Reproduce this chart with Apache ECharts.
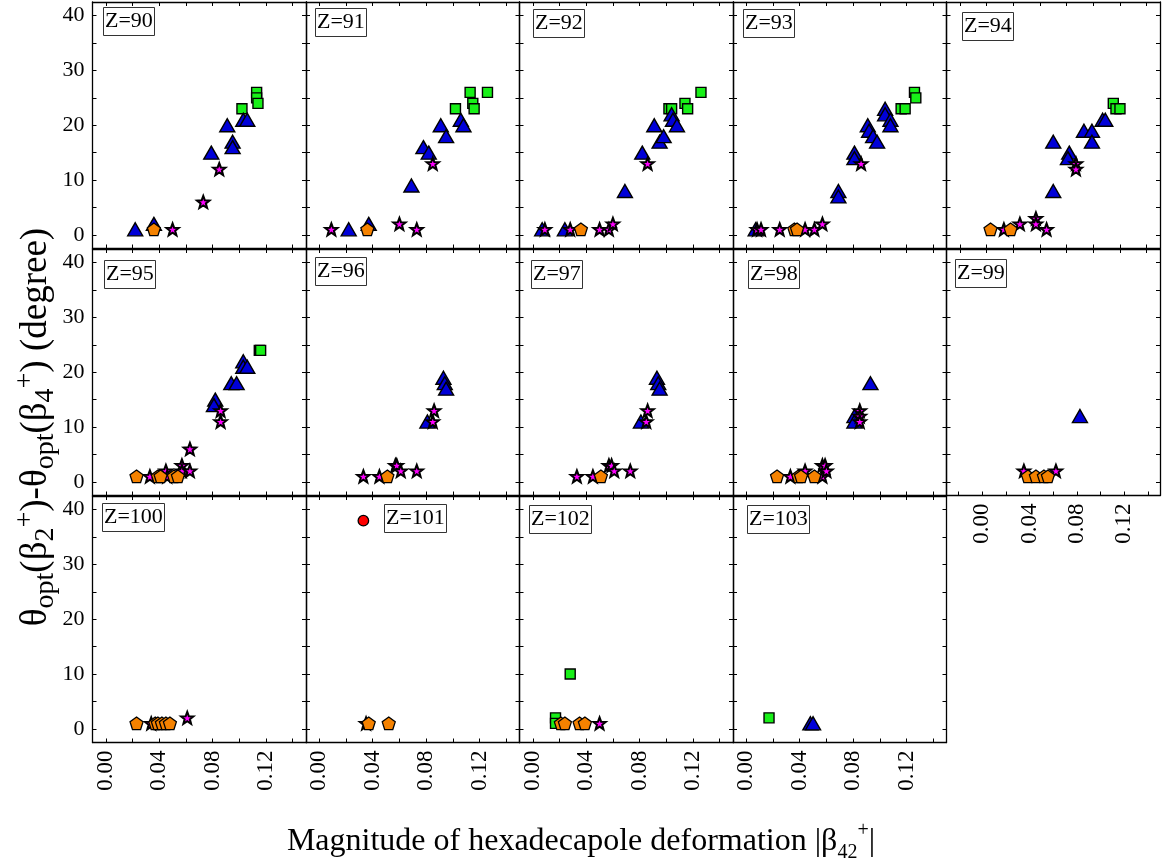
<!DOCTYPE html>
<html>
<head>
<meta charset="utf-8">
<script src="https://cdn.jsdelivr.net/npm/echarts@6/dist/echarts.min.js"></script>
<style>html,body{margin:0;padding:0;background:#fff}#c{width:1164px;height:862px}</style>
</head>
<body>
<div id="c"></div>
<script>
// ---- data: [x = |beta42+|, y = degree] ----
const zValues = [90,91,92,93,94,95,96,97,98,99,100,101,102,103];
const xTickValues = [0,0.02,0.04,0.06,0.08,0.10,0.12,0.14];
const xLabelValues = [0,0.04,0.08,0.12];
const yTickValues = [0,5,10,15,20,25,30,35,40];
const yLabelValues = [0,10,20,30,40];

const tri90 = [[0.022,1],[0.036,2],[0.079,15],[0.091,20],[0.095,17],[0.095,16],[0.103,21],[0.106,21]];
const sq90 = [[0.102,23],[0.113,26],[0.113,25],[0.114,24]];
const star90 = [[0.050,1],[0.073,6],[0.085,12]];
const pent90 = [[0.036,1]];

const tri91 = [[0.022,1],[0.037,2],[0.069,9],[0.078,16],[0.082,15],[0.091,20],[0.095,18],[0.106,21],[0.108,20]];
const sq91 = [[0.102,23],[0.113,26],[0.115,24],[0.116,23],[0.126,26]];
const star91 = [[0.009,1],[0.060,2],[0.073,1],[0.085,13]];
const pent91 = [[0.036,1]];

const tri92 = [[0.007,1],[0.024,1],[0.069,8],[0.082,15],[0.091,20],[0.095,17],[0.098,18],[0.104,22],[0.105,21],[0.108,20]];
const sq92 = [[0.102,23],[0.104,23],[0.114,24],[0.116,23],[0.126,26]];
const star92 = [[0.009,1],[0.028,1],[0.050,1],[0.057,1],[0.060,2],[0.086,13]];
const pent92 = [[0.036,1]];

const tri93 = [[0.007,1],[0.069,8],[0.069,7],[0.081,15],[0.081,14],[0.091,20],[0.092,19],[0.095,18],[0.098,17],[0.104,23],[0.104,22],[0.108,21],[0.108,20]];
const sq93 = [[0.116,23],[0.119,23],[0.126,26],[0.127,25]];
const star93 = [[0.008,1],[0.011,1],[0.025,1],[0.044,1],[0.051,1],[0.057,2],[0.086,13]];
const pent93 = [[0.036,1],[0.038,1]];

const tri94 = [[0.070,8],[0.070,17],[0.082,15],[0.081,14],[0.093,19],[0.099,19],[0.099,17],[0.107,21],[0.109,21]];
const sq94 = [[0.115,24],[0.117,23],[0.120,23]];
const star94 = [[0.033,1],[0.045,2],[0.057,3],[0.057,2],[0.065,1],[0.087,13],[0.087,12]];
const pent94 = [[0.023,1],[0.038,1]];

const tri95 = [[0.082,15],[0.081,14],[0.094,18],[0.098,18],[0.103,22],[0.103,21],[0.106,21]];
const sq95 = [[0.115,24],[0.116,24]];
const star95 = [[0.033,1],[0.045,2],[0.046,1],[0.057,3],[0.057,2],[0.063,2],[0.063,6],[0.086,11],[0.086,13]];
const pent95 = [[0.023,1],[0.039,1],[0.041,1],[0.051,1],[0.054,1]];

const tri96 = [[0.081,11],[0.093,19],[0.094,18],[0.095,17]];
const star96 = [[0.033,1],[0.045,1],[0.057,3],[0.058,3],[0.061,2],[0.073,2],[0.085,11],[0.086,13]];
const pent96 = [[0.051,1]];

const tri97 = [[0.081,11],[0.093,19],[0.094,18],[0.095,17]];
const star97 = [[0.033,1],[0.045,1],[0.057,3],[0.059,3],[0.061,2],[0.073,2],[0.085,11],[0.086,13]];
const pent97 = [[0.051,1]];

const tri98 = [[0.081,12],[0.081,11],[0.093,18]];
const star98 = [[0.033,1],[0.044,2],[0.057,1],[0.057,3],[0.059,3],[0.060,2],[0.085,13],[0.085,12],[0.085,11]];
const pent98 = [[0.023,1],[0.039,1],[0.041,1],[0.051,1]];

const tri99 = [[0.090,12]];
const star99 = [[0.048,2],[0.072,2]];
const pent99 = [[0.051,1],[0.057,1],[0.063,1],[0.066,1]];

const star100 = [[0.034,1],[0.061,2]];
const pent100 = [[0.023,1],[0.037,1],[0.039,1],[0.042,1],[0.045,1],[0.048,1]];

const circ101 = [[0.033,38]];
const star101 = [[0.035,1]];
const pent101 = [[0.037,1],[0.052,1]];

const sq102 = [[0.017,2],[0.017,1],[0.028,10]];
const star102 = [[0.050,1]];
const pent102 = [[0.021,1],[0.024,1],[0.035,1],[0.039,1]];

const sq103 = [[0.017,2]];
const tri103 = [[0.048,1],[0.050,1]];

const panels = [
  {z:90, sq:sq90, tri:tri90, star:star90, pent:pent90, circ:[]},
  {z:91, sq:sq91, tri:tri91, star:star91, pent:pent91, circ:[]},
  {z:92, sq:sq92, tri:tri92, star:star92, pent:pent92, circ:[]},
  {z:93, sq:sq93, tri:tri93, star:star93, pent:pent93, circ:[]},
  {z:94, sq:sq94, tri:tri94, star:star94, pent:pent94, circ:[]},
  {z:95, sq:sq95, tri:tri95, star:star95, pent:pent95, circ:[]},
  {z:96, sq:[], tri:tri96, star:star96, pent:pent96, circ:[]},
  {z:97, sq:[], tri:tri97, star:star97, pent:pent97, circ:[]},
  {z:98, sq:[], tri:tri98, star:star98, pent:pent98, circ:[]},
  {z:99, sq:[], tri:tri99, star:star99, pent:pent99, circ:[]},
  {z:100, sq:[], tri:[], star:star100, pent:pent100, circ:[]},
  {z:101, sq:[], tri:[], star:star101, pent:pent101, circ:circ101},
  {z:102, sq:sq102, tri:[], star:star102, pent:pent102, circ:[]},
  {z:103, sq:sq103, tri:tri103, star:[], pent:[], circ:[]}
];

// ---- layout ----
const FONT = 'Liberation Serif';
const colLeft = [92.5, 306, 519.5, 733, 946.5];
const rowTop = [2, 249, 496];
const PW = 213.5, PH = 246.5;
const labelBoxPos = [
  [103,7],[315,8],[533,9],[743,9],[962,12],
  [104,260],[315,257],[531,260],[748,260],[955,259],
  [102,503],[384,504],[529,505],[747,505]
];

const STAR = 'path://M50,0L62.34,33.01L97.55,34.55L69.97,56.49L79.39,90.45L50,71L20.61,90.45L30.03,56.49L2.45,34.55L37.66,33.01Z';
const PENT = 'path://M50,0L97.55,34.55L79.39,90.45L20.61,90.45L2.45,34.55Z';

const grids = [], xAxes = [], yAxes = [], series = [], titles = [];
const lineStyle = {color:'#000', width:1.3};
const tickStyle = {show:true, inside:true, length:4, lineStyle:{color:'#000', width:1}};

panels.forEach((p, i) => {
  const r = Math.floor(i/5), c = i % 5;
  grids.push({left: colLeft[c], top: rowTop[r], width: PW, height: PH, show:false});
  const showX = (r === 2) || (i === 9);
  const specialBottom = (i === 9);
  xAxes.push({
    gridIndex: i, type:'value', position:'bottom',
    min: specialBottom ? -0.03 : -0.01, max: 0.15,
    axisLine:{show:true, onZero:false, lineStyle},
    axisTick: Object.assign({}, tickStyle, {customValues: specialBottom ? [-0.02].concat(xTickValues) : xTickValues}),
    axisLabel:{show: showX, customValues: xLabelValues, rotate:90, margin:8,
      fontFamily:FONT, fontSize:23, color:'#000', formatter: v => v.toFixed(2)},
    splitLine:{show:false}
  });
  xAxes.push({
    gridIndex: i, type:'value', position:'top', min:-0.01, max:0.15,
    axisLine:{show:true, onZero:false, lineStyle},
    axisTick: Object.assign({}, tickStyle, {customValues: xTickValues}),
    axisLabel:{show:false}, splitLine:{show:false}
  });
  yAxes.push({
    gridIndex: i, type:'value', position:'left', min:-2.5, max:42.5,
    axisLine:{show:true, onZero:false, lineStyle},
    axisTick: Object.assign({}, tickStyle, {customValues: yTickValues}),
    axisLabel:{show: c === 0, customValues: yLabelValues, margin:8,
      fontFamily:FONT, fontSize:22, color:'#000', formatter: v => String(Math.round(v))},
    splitLine:{show:false}
  });
  yAxes.push({
    gridIndex: i, type:'value', position:'right', min:-2.5, max:42.5,
    axisLine:{show:true, onZero:false, lineStyle},
    axisTick: Object.assign({}, tickStyle, {customValues: yTickValues}),
    axisLabel:{show:false}, splitLine:{show:false}
  });
  const xi = 2*i+1, yi = 2*i;
  const base = {type:'scatter', xAxisIndex: xi, yAxisIndex: yi, silent:true, animation:false};
  series.push(Object.assign({}, base, {data:p.sq, symbol:'rect', symbolSize:10,
    itemStyle:{color:'#18f018', borderColor:'#000', borderWidth:1.4, opacity:1}, z:2}));
  series.push(Object.assign({}, base, {data:p.tri, symbol:'triangle', symbolSize:[15,13],
    itemStyle:{color:'#0000d8', borderColor:'#000', borderWidth:1.4, opacity:1}, z:3}));
  series.push(Object.assign({}, base, {data:p.star, symbol:STAR, symbolSize:[12.5,12],
    itemStyle:{color:'#ff00ff', borderColor:'#000', borderWidth:2, opacity:1}, z:4}));
  series.push(Object.assign({}, base, {data:p.pent, symbol:PENT, symbolSize:[13,12.5],
    itemStyle:{color:'#f58200', borderColor:'#000', borderWidth:1.3, opacity:1}, z:5}));
  series.push(Object.assign({}, base, {data:p.circ, symbol:'circle', symbolSize:10.5,
    itemStyle:{color:'#ff0000', borderColor:'#000', borderWidth:1.3, opacity:1}, z:6}));
  titles.push({
    text:'Z=' + p.z, left: labelBoxPos[i][0], top: labelBoxPos[i][1],
    padding:[3,2,3,2], borderColor:'#333', borderWidth:1, backgroundColor:'#fff',
    textStyle:{fontFamily:FONT, fontSize:22, fontWeight:'normal', color:'#000', lineHeight:23}
  });
});

const richMain = (size, ratio) => ({
  m:{fontFamily:FONT, fontSize:size, color:'#000', lineHeight:Math.round(size*1.3), verticalAlign:'middle'},
  s:{fontFamily:FONT, fontSize:Math.round(size*ratio), color:'#000', lineHeight:Math.round(size*ratio), verticalAlign:'bottom'},
  p:{fontFamily:FONT, fontSize:Math.round(size*ratio), color:'#000', lineHeight:Math.round(size*ratio), verticalAlign:'top'}
});

const option = {
  backgroundColor:'#fff',
  animation:false,
  title: titles,
  grid: grids, xAxis: xAxes, yAxis: yAxes, series: series,
  graphic: [
    {type:'text', x:581, y:842, z:10, style:{
      text:'{m|Magnitude of hexadecapole deformation |β}{s|42}{p|+}{m||}',
      rich: richMain(32, 0.62), align:'center', verticalAlign:'middle'}},
    {type:'text', x:36, y:427, rotation:Math.PI/2, z:10, style:{
      text:'{m|θ}{s|opt}{m|(β}{s|2}{p|+}{m|)-θ}{s|opt}{m|(β}{s|4}{p|+}{m|) (degree)}',
      rich: richMain(37, 0.76), align:'center', verticalAlign:'middle'}}
  ]
};

const chart = echarts.init(document.getElementById('c'), null, {renderer:'canvas'});
chart.setOption(option);
</script>
</body>
</html>
